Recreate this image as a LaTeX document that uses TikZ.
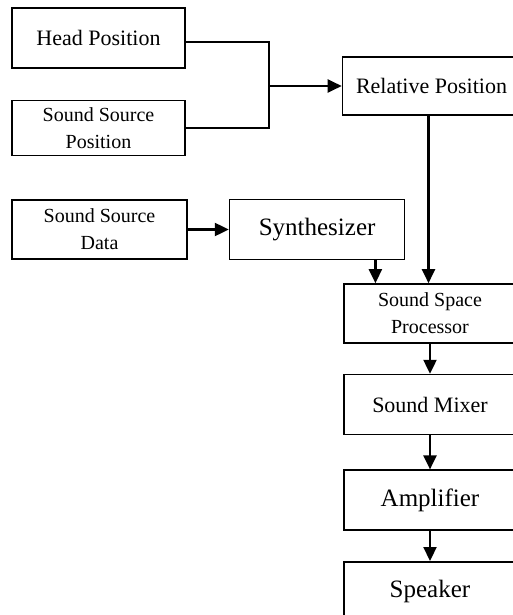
\documentclass[tikz,border=0pt]{standalone}
\usepackage{fontspec}
\setmainfont{Liberation Serif}
\usetikzlibrary{arrows.meta,positioning}

\begin{document}
\begin{tikzpicture}[
    x=0.5pt,y=-0.5pt,
    block/.style={draw=black,line width=0.8pt,minimum width=86.5pt,minimum height=30pt,align=center,inner sep=2pt,font=\fontsize{11}{13}\selectfont},
    small/.style={font=\fontsize{10}{13.5}\selectfont},
    big/.style={font=\fontsize{12.5}{15}\selectfont},
    col/.style={minimum width=86pt},
    link/.style={line width=1.1pt,-{Triangle[length=7pt,width=6.5pt]}},
    node distance=15pt
  ]
  \useasboundingbox (0,0) rectangle (513,615);
  \clip (0,0) rectangle (513,615);
  % inputs on the left
  \node[block] (head) at (98.5,38) {Head Position};
  \node[block,small,minimum height=27.5pt,below=15.5pt of head] (srcpos) {Sound Source\\Position};
  \node[block,small,minimum width=87.5pt,minimum height=29.5pt] (srcdata) at (99.5,229.5) {Sound Source\\Data};
  \node[block,big,minimum width=87.5pt,right=20.5pt of srcdata] (synth) {Synthesizer};
  % right column
  \node[block,minimum width=89pt,minimum height=29pt] (rel) at (431.5,86) {Relative Position};
  \node[block,col,small,minimum height=29.5pt] (proc) at (430,313.5) {Sound Space\\Processor};
  \node[block,col,below=15pt of proc] (mixer) {Sound Mixer};
  \node[block,col,big,below=17pt of mixer] (amp) {Amplifier};
  \node[block,col,big,below=15pt of amp] (spk) {Speaker};
  % connectors
  \coordinate (join) at (269,86);
  \draw[line width=1.1pt] ([yshift=-2pt]head.east) -| (join) |- (srcpos.east);
  \draw[link] (join) -- (rel.west);
  \draw[link] (srcdata) -- (synth);
  \coordinate (tap) at ([xshift=-15pt]synth.south east);
  \draw[link] (tap) -- (tap |- proc.north);
  \draw[link] ([xshift=-1.5pt]rel.south) -- ([xshift=-1.5pt]rel.south |- proc.north);
  \draw[link] (proc) -- (mixer);
  \draw[link] (mixer) -- (amp);
  \draw[link] (amp) -- (spk);
\end{tikzpicture}
\end{document}
